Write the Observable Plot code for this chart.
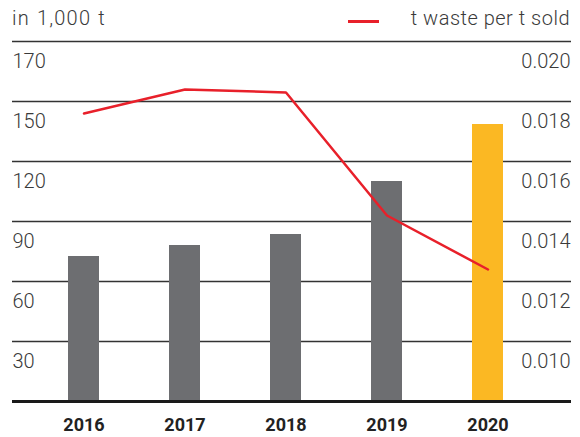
<!DOCTYPE html>
<html><head><meta charset="utf-8">
<script src="https://cdn.jsdelivr.net/npm/d3@7"></script>
<script src="https://cdn.jsdelivr.net/npm/@observablehq/plot@0.6"></script>
<style>
html,body{margin:0;padding:0;background:#fff;}
#chart{position:relative;width:580px;height:437px;font-family:Roboto,sans-serif;color:#3a3a3a;}
#title{position:absolute;left:12px;top:5px;font-size:20px;font-weight:300;line-height:26px;letter-spacing:1.2px;word-spacing:1px;}
#legend-line{position:absolute;left:348px;top:20px;width:31px;height:2.5px;background:#e8202a;}
#legend-text{position:absolute;right:10px;top:5px;font-size:20px;font-weight:300;line-height:26px;letter-spacing:0.5px;}
#plot{position:absolute;left:0;top:0;}
</style>
</head><body>
<div id="chart">
  <div id="plot"></div>
  <div id="title"></div>
  <div id="legend-line"></div>
  <div id="legend-text"></div>
</div>
<script>
const titleText = "in 1,000 t";
const legendText = "t waste per t sold";
const years = ["2016","2017","2018","2019","2020"];
const wasteThousandT = [72.5, 78, 83.5, 110, 138.5];
const wastePerTSold = [0.0176, 0.0184, 0.0183, 0.0142, 0.0124];
const highlightYear = "2020";
const leftTickValues = [30, 60, 90, 120, 150, 180];
const leftTickLabels = ["30", "60", "90", "120", "150", "170"];
const rightTickValues = [0.010, 0.012, 0.014, 0.016, 0.018, 0.020];
const rightTickLabels = ["0.010", "0.012", "0.014", "0.016", "0.018", "0.020"];

// right axis: 0.008 at baseline, 0.002 per 30 units of left axis
const toLeft = r => (r - 0.008) / 0.002 * 30;

const data = years.map((y, i) => ({year: y, waste: wasteThousandT[i], ratio: wastePerTSold[i]}));

document.getElementById("title").textContent = titleText;
document.getElementById("legend-text").textContent = legendText;

const chart = Plot.plot({
  width: 580, height: 437,
  marginTop: 41, marginBottom: 36, marginLeft: 12, marginRight: 9,
  x: {domain: years, paddingInner: 0.695, paddingOuter: 0, insetLeft: 54.5, insetRight: 67.5, label: null},
  y: {domain: [0, 180], axis: null},
  color: {type: "identity"},
  style: {fontFamily: "Roboto, sans-serif", color: "#3a3a3a", background: "transparent", overflow: "visible"},
  marks: [
    Plot.ruleY([0, ...leftTickValues], {stroke: "#333", strokeWidth: 1.5}),
    Plot.barY(data, {x: "year", y: "waste", fill: d => d.year === highlightYear ? "#fbb823" : "#6d6e71"}),
    Plot.ruleY([0], {stroke: "#1a1a1a", strokeWidth: 3}),
    Plot.lineY(data, {x: "year", y: d => toLeft(d.ratio), stroke: "#e8202a", strokeWidth: 2.5}),
    Plot.text(leftTickValues, {y: d => d, text: (d, i) => leftTickLabels[i], frameAnchor: "left", textAnchor: "start", dy: 20, fontSize: 20, fontWeight: 300, fill: "#3a3a3a"}),
    Plot.text(rightTickValues, {y: d => toLeft(d), text: (d, i) => rightTickLabels[i], frameAnchor: "right", textAnchor: "end", dx: -1, dy: 20, fontSize: 20, fontWeight: 300, fill: "#3a3a3a"}),
    Plot.axisX({tickSize: 0, tickPadding: 17, fontSize: 18, fontWeight: "bold", label: null, fill: "#222"})
  ]
});
document.getElementById("plot").appendChild(chart);
</script>
</body></html>
